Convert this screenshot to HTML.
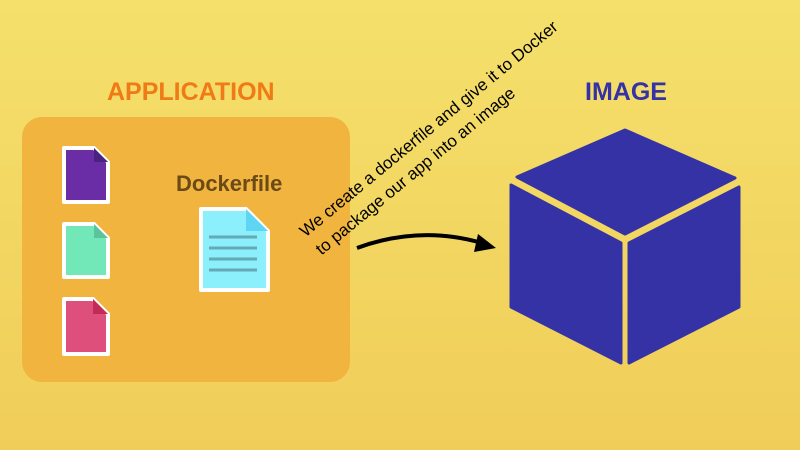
<!DOCTYPE html>
<html><head><style>
body{margin:0;width:800px;height:450px;overflow:hidden;background:linear-gradient(#f5e06c,#f0cd58);font-family:"Liberation Sans",sans-serif;position:relative}
.box{position:absolute;left:22px;top:117px;width:328px;height:265px;border-radius:20px;background:#f0b43f}
.t{position:absolute;font-weight:bold;font-size:25px}
.note{position:absolute;font-size:17px;color:#000;white-space:nowrap;transform-origin:0 0;transform:rotate(-39.5deg);line-height:19px}
</style></head><body>
<div class="box"></div>
<div class="t" style="left:107px;top:78px;color:#f07a16">APPLICATION</div>
<div class="t" style="left:585px;top:78px;color:#3532a5">IMAGE</div>
<div style="position:absolute;left:176px;top:171px;font-size:22px;font-weight:bold;color:#6b4a18">Dockerfile</div>
<svg width="800" height="450" style="position:absolute;left:0;top:0">
 <g stroke="#fff" stroke-width="4" stroke-linejoin="round">
  <path d="M64,148 H94 L108,162 V202 H64 Z" fill="#6a2da6"/>
  <path d="M64,224 H94 L108,238 V277 H64 Z" fill="#72e8b9"/>
  <path d="M64,299 H93 L108,314 V354 H64 Z" fill="#de4f7b"/>
  <path d="M201,209 H246 L268,231 V290 H201 Z" fill="#8ceffc"/>
 </g>
 <path d="M94,148 L108,162 H94 Z" fill="#4a2280"/>
 <path d="M94,224 L108,238 H94 Z" fill="#5cc49c"/>
 <path d="M93,299 L108,314 H93 Z" fill="#c42a57"/>
 <path d="M246,209 L268,231 H246 Z" fill="#5ed5f3"/>
 <g stroke="#63a9b6" stroke-width="3"><line x1="209" y1="237" x2="257" y2="237"/><line x1="209" y1="248" x2="257" y2="248"/><line x1="209" y1="259" x2="257" y2="259"/><line x1="209" y1="270" x2="257" y2="270"/></g>
 <path d="M357,248 Q420,225 482,243" stroke="#000" stroke-width="4" fill="none"/>
 <path d="M478,234 L496,248 L474,252 Z" fill="#000"/>
 <g fill="#3532a5" stroke="#3532a5" stroke-width="3" stroke-linejoin="round">
  <path d="M625,130 L735,178 L625,234 L517,177 Z"/>
  <path d="M511,185 L621,243 V363 L511,307 Z"/>
  <path d="M629,243 L739,187 V307 L629,363 Z"/>
 </g>
</svg>
<div class="note" style="left:296px;top:226px">We create a dockerfile and give it to Docker</div>
<div class="note" style="left:312px;top:244px">to package our app into an image</div>
</body></html>
